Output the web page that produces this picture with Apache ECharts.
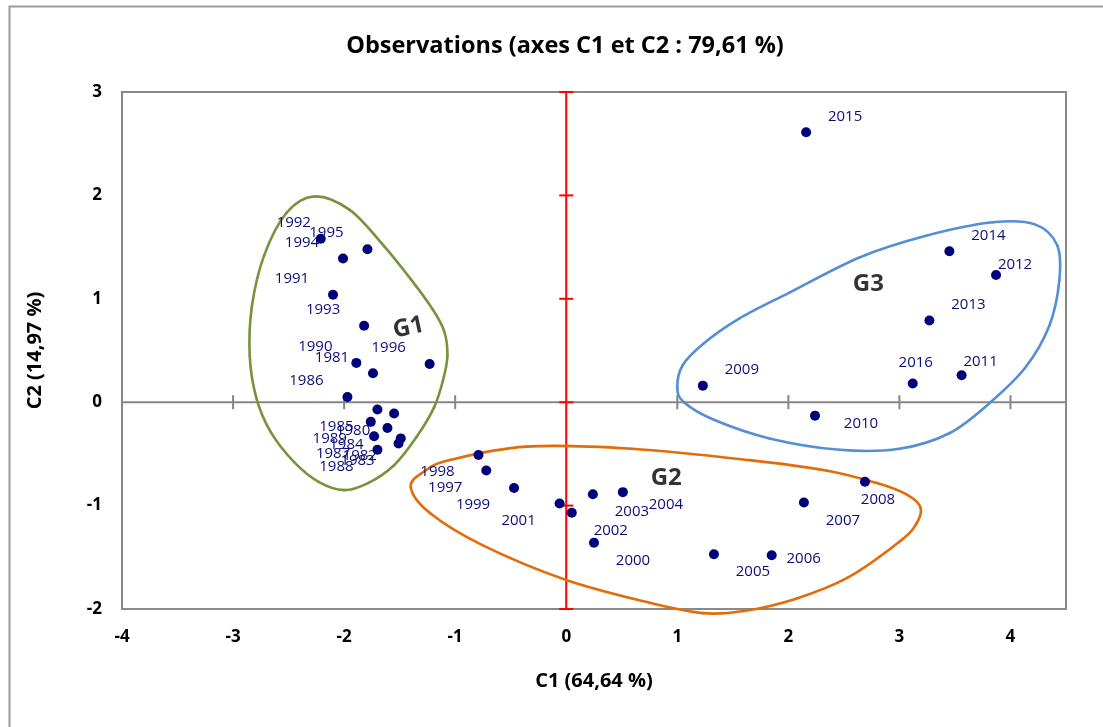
<!DOCTYPE html>
<html><head><meta charset="utf-8">
<script src="https://cdn.jsdelivr.net/npm/echarts@6/dist/echarts.min.js"></script>
<style>html,body{margin:0;padding:0;background:#fff}#c{width:1103px;height:727px}</style>
</head><body><div id="c"></div>
<script>
// ---- data ----
const years = [1980,1981,1982,1983,1984,1985,1986,1987,1988,1989,1990,1991,1992,1993,1994,1995,1996,
  1997,1998,1999,2000,2001,2002,2003,2004,2005,2006,2007,2008,
  2009,2010,2011,2012,2013,2014,2015,2016];
const c1 = [-1.55,-1.74,-1.49,-1.51,-1.61,-1.70,-1.97,-1.73,-1.70,-1.76,-1.89,-2.10,-2.21,-1.82,-2.01,-1.79,-1.23,
  -0.72,-0.79,-0.47,0.25,-0.06,0.05,0.24,0.51,1.33,1.85,2.14,2.69,
  1.23,2.24,3.56,3.87,3.27,3.45,2.16,3.12];
const c2 = [-0.11,0.28,-0.35,-0.40,-0.25,-0.07,0.05,-0.33,-0.46,-0.19,0.38,1.04,1.58,0.74,1.39,1.48,0.37,
  -0.66,-0.51,-0.83,-1.36,-0.98,-1.07,-0.89,-0.87,-1.47,-1.48,-0.97,-0.77,
  0.16,-0.13,0.26,1.23,0.79,1.46,2.61,0.18];
const xTicks = [-4,-3,-2,-1,0,1,2,3,4];
const yTicks = [-2,-1,0,1,2,3];
const groupNames = ['G1','G2','G3'];
const groupLabelX = [-1.42, 0.90, 2.72];
const groupLabelY = [0.72, -0.73, 1.14];
// group outlines (C1, C2)
const g1X = [-2.27,-1.95,-1.64,-1.40,-1.21,-1.10,-1.07,-1.11,-1.19,-1.35,-1.55,-1.78,-2.00,-2.23,-2.45,-2.66,-2.79,-2.85,-2.83,-2.72,-2.52];
const g1Y = [1.99,1.86,1.51,1.19,0.91,0.69,0.45,0.21,-0.05,-0.34,-0.61,-0.78,-0.85,-0.77,-0.58,-0.29,0.04,0.45,0.93,1.42,1.83];
const g2X = [-1.40,-1.28,-1.05,-0.36,0.59,1.65,2.34,2.79,3.06,3.19,3.15,3.00,2.53,2.07,1.60,1.23,0.75,0.00,-0.76,-1.23];
const g2Y = [-0.82,-0.67,-0.56,-0.43,-0.45,-0.56,-0.66,-0.78,-0.89,-1.02,-1.18,-1.35,-1.70,-1.90,-2.02,-2.04,-1.94,-1.72,-1.38,-1.07];
const g3X = [1.00,1.05,1.24,1.56,2.01,2.64,3.24,3.84,4.22,4.42,4.44,4.35,4.13,3.81,3.45,3.00,2.46,1.83,1.33,1.06];
const g3Y = [0.14,0.36,0.57,0.81,1.06,1.40,1.61,1.74,1.72,1.52,1.18,0.74,0.33,-0.01,-0.30,-0.45,-0.46,-0.35,-0.17,0.00];

// ---- styling ----
const X_MIN = -4, X_MAX = 4.5, Y_MIN = -2, Y_MAX = 3;
const FONT = 'Open Sans';
const groupColors = ['#77933C','#E36C09','#558ED5'];
const outlines = [[g1X,g1Y],[g2X,g2Y],[g3X,g3Y]];
const OFF = { UL:[-41,-16], LL:[-41,17], UR:[39,-16], LR:[39,18] };
const labelOffsets = {
  1980:OFF.LL,1981:OFF.UL,1982:OFF.LL,1983:OFF.LL,1984:OFF.LL,1985:OFF.LL,1986:OFF.UL,1987:OFF.LL,
  1988:OFF.LL,1989:OFF.LL,1990:OFF.UL,1991:OFF.UL,1992:[-27,-16],1993:OFF.UL,1994:OFF.UL,1995:OFF.UL,1996:OFF.UL,
  1997:OFF.LL,1998:OFF.LL,1999:OFF.LL,2000:OFF.LR,2001:OFF.LL,2002:OFF.LR,2003:OFF.LR,2004:[43,13],
  2005:OFF.LR,2006:[32,4],2007:OFF.LR,2008:[13,18],2009:OFF.UR,2010:[46,8],2011:[19,-14],2012:[19,-10],
  2013:OFF.UR,2014:OFF.UR,2015:OFF.UR,2016:[3,-21]
};

const pointData = years.map((y,i)=>({
  name: String(y), value:[c1[i], c2[i]],
  label:{ offset: labelOffsets[y] }
}));

function crossRender(params, api){
  const kids = [];
  const a = api.coord([X_MIN,0]), b = api.coord([X_MAX,0]);
  kids.push({type:'line', shape:{x1:a[0],y1:a[1],x2:b[0],y2:b[1]}, style:{stroke:'#868686',lineWidth:2}});
  xTicks.forEach(t=>{ if(t===0) return; const p = api.coord([t,0]);
    kids.push({type:'line', shape:{x1:p[0],y1:p[1]-7,x2:p[0],y2:p[1]+7}, style:{stroke:'#868686',lineWidth:2}}); });
  const c = api.coord([0,Y_MIN]), d = api.coord([0,Y_MAX]);
  kids.push({type:'line', shape:{x1:c[0],y1:c[1],x2:d[0],y2:d[1]}, style:{stroke:'#FF0000',lineWidth:2}});
  yTicks.forEach(t=>{ const p = api.coord([0,t]);
    kids.push({type:'line', shape:{x1:p[0]-7,y1:p[1],x2:p[0]+7,y2:p[1]}, style:{stroke:'#FF0000',lineWidth:2}}); });
  return {type:'group', children:kids};
}

function outlineRender(params, api){
  const i = params.dataIndex;
  const xs = outlines[i][0], ys = outlines[i][1];
  const pts = xs.map((x,k)=>api.coord([x, ys[k]]));
  const n = pts.length, kids = [];
  for (let k=0;k<n;k++){
    const p0=pts[(k-1+n)%n], p1=pts[k], p2=pts[(k+1)%n], p3=pts[(k+2)%n];
    kids.push({type:'bezierCurve', shape:{
      x1:p1[0],y1:p1[1],x2:p2[0],y2:p2[1],
      cpx1:p1[0]+(p2[0]-p0[0])/6, cpy1:p1[1]+(p2[1]-p0[1])/6,
      cpx2:p2[0]-(p3[0]-p1[0])/6, cpy2:p2[1]-(p3[1]-p1[1])/6},
      style:{stroke:groupColors[i], lineWidth:2.6, fill:null, lineCap:'round'}});
  }
  return {type:'group', children:kids};
}

const chart = echarts.init(document.getElementById('c'), null, {renderer:'canvas'});
chart.setOption({
  animation:false,
  backgroundColor:'#fff',
  graphic:[{type:'rect', left:7, top:4, shape:{width:1200,height:800}, style:{fill:null, stroke:'#9a9a9a', lineWidth:2}, silent:true, z:-10}],
  title:{ text:'Observations (axes C1 et C2 : 79,61 %)', left:560, top:29, textAlign:'center',
    textStyle:{ fontFamily:FONT, fontSize:23.5, fontWeight:'bold', color:'#000' } },
  grid:{ left:122, top:92, right:37, bottom:118, show:true, borderColor:'#898989', borderWidth:2, backgroundColor:'transparent' },
  xAxis:{ type:'value', min:X_MIN, max:X_MAX, interval:1,
    axisLine:{show:false}, axisTick:{show:false}, splitLine:{show:false},
    axisLabel:{ showMaxLabel:false, margin:20, fontFamily:FONT, fontSize:17, fontWeight:'bold', color:'#000' },
    name:'C1 (64,64 %)', nameLocation:'middle', nameGap:62,
    nameTextStyle:{ fontFamily:FONT, fontSize:20, fontWeight:'bold', color:'#000' } },
  yAxis:{ type:'value', min:Y_MIN, max:Y_MAX, interval:1,
    axisLine:{show:false}, axisTick:{show:false}, splitLine:{show:false},
    axisLabel:{ margin:20, fontFamily:FONT, fontSize:17, fontWeight:'bold', color:'#000' },
    name:'C2 (14,97 %)', nameLocation:'middle', nameGap:77,
    nameTextStyle:{ fontFamily:FONT, fontSize:20, fontWeight:'bold', color:'#000' } },
  series:[
    { type:'custom', name:'axes', renderItem:crossRender, data:[[0,0]], clip:false, z:1, silent:true },
    { type:'custom', name:'groups', renderItem:outlineRender,
      data:groupNames.map((g,i)=>[groupLabelX[i], groupLabelY[i]]), clip:false, z:2, silent:true },
    { type:'scatter', name:'Observations', data:pointData, symbol:'circle', symbolSize:10, z:3,
      itemStyle:{ color:'#00007A', opacity:1 },
      label:{ show:true, position:'inside', formatter:'{b}', fontFamily:FONT, fontSize:15, color:'#0C0C78' } },
    { type:'scatter', name:'groupLabels', symbolSize:0, z:4, silent:true,
      data:groupNames.map((g,i)=>({ name:g, value:[groupLabelX[i], groupLabelY[i]],
        label:{ rotate: i===0 ? 12 : 0 } })),
      label:{ show:true, position:'inside', formatter:'{b}', fontFamily:FONT, fontSize:24, fontWeight:'bold', color:'#000' } }
  ]
});
</script></body></html>
